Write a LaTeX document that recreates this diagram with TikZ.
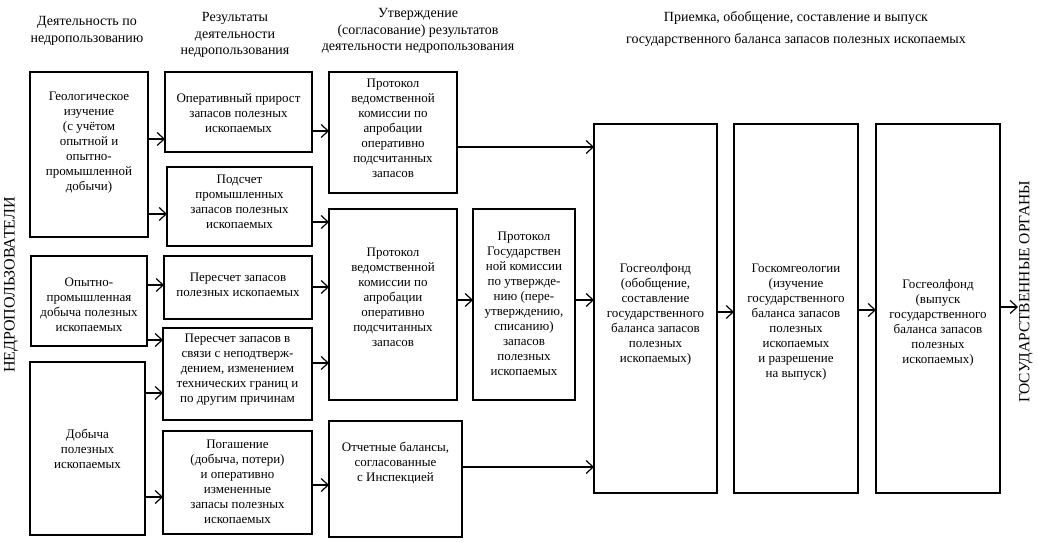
\documentclass[tikz,border=0pt]{standalone}
\usepackage{fontspec}
\setmainfont{Liberation Serif}
\usetikzlibrary{arrows.meta}
\newcommand\mybox[7]{%
  \node[box, minimum width={(#4-#2)*1pt}, minimum height={(#5-#3)*1pt}] (#1) at ({(#2+#4)/2},{(#3+#5)/2}) {};
  \node[txt] (#1t) at ([yshift={-(#6)*1pt}]#1.center) {#7};}
\newcommand\myarr[3]{\draw[arrw] (#1.east |- 0,#3) -- (#2.west |- 0,#3);}
\begin{document}
\begin{tikzpicture}[x=1pt,y=-1pt,
  box/.style={draw, line width=1.2pt, inner sep=0pt, outer sep=0pt},
  txt/.style={align=center, font=\fontsize{13}{15}\selectfont, inner sep=0pt},
  hdr/.style={align=center, font=\fontsize{14}{16.5}\selectfont, inner sep=0pt},
  side/.style={font=\fontsize{16}{18}\selectfont, inner sep=1pt, rotate=90},
  arrw/.style={-{Straight Barb[length=7pt,width=13pt,line width=1.2pt]}, line width=1.2pt}]
\useasboundingbox (0,0) rectangle (1039,543);
% headers
\node[hdr] (h1) at (87,31) {Деятельность по\\недропользованию};
\node[hdr] (h2) at (235,35) {Результаты\\деятельности\\недропользования};
\node[hdr] (h3) at (418,31) {Утверждение\\(согласование) результатов\\деятельности недропользования};
\node[hdr] (h4) at (796,29) {Приемка, обобщение, составление и выпуск\\[6pt]государственного баланса запасов полезных ископаемых};
\node[side] (ned) at (11,285) {НЕДРОПОЛЬЗОВАТЕЛИ};
\node[side, font=\fontsize{15.5}{18}\selectfont] (gos) at (1026,292) {ГОСУДАРСТВЕННЫЕ ОРГАНЫ};
% column 1
\mybox{g1}{30}{72}{148}{237}{-12}{Геологическое\\изучение\\(с учётом\\опытной и\\опытно-\\промышленной\\добычи)}
\mybox{g2}{31}{256}{147}{346}{4}{Опытно-\\промышленная\\добыча полезных\\ископаемых}
\mybox{g3}{30}{362}{145}{535}{0}{Добыча\\полезных\\ископаемых}
% column 2
\mybox{r1}{165}{72}{312}{152}{1}{Оперативный прирост\\запасов полезных\\ископаемых}
\mybox{r2}{167}{167}{312}{246}{-5}{Подсчет\\промышленных\\запасов полезных\\ископаемых}
\mybox{r3}{164}{256}{312}{319}{-3}{Пересчет запасов\\полезных ископаемых}
\mybox{r4}{163}{328}{312}{420}{-4}{Пересчет запасов в\\связи с неподтверж-\\дением, изменением\\технических границ и\\по другим причинам}
\mybox{r5}{163}{431}{312}{534}{-1}{Погашение\\(добыча, потери)\\и оперативно\\измененные\\запасы полезных\\ископаемых}
% column 3
\mybox{p1}{329}{72}{457}{193}{-4}{Протокол\\ведомственной\\комиссии по\\апробации\\оперативно\\подсчитанных\\запасов}
\mybox{p2}{329}{209}{457}{400}{-7}{Протокол\\ведомственной\\комиссии по\\апробации\\оперативно\\подсчитанных\\запасов}
\mybox{p3}{473}{209}{575}{400}{-1}{Протокол\\Государствен\\ной комиссии\\по утвержде-\\нию (пере-\\утверждению,\\списанию)\\запасов\\полезных\\ископаемых}
\mybox{p4}{329}{421}{462}{537}{-16}{Отчетные балансы,\\согласованные\\с Инспекцией}
% column 4
\mybox{f1}{594}{124}{717}{493}{6}{Госгеолфонд\\(обобщение,\\составление\\государственного\\баланса запасов\\полезных\\ископаемых)}
\mybox{f2}{734}{124}{858}{493}{14}{Госкомгеологии\\(изучение\\государственного\\баланса запасов\\полезных\\ископаемых\\и разрешение\\на выпуск)}
\mybox{f3}{876}{124}{1000}{493}{14}{Госгеолфонд\\(выпуск\\государственного\\баланса запасов\\полезных\\ископаемых)}
% arrows
\myarr{g1}{r1}{139}
\myarr{g1}{r2}{214}
\myarr{g2}{r3}{285}
\myarr{g2}{r4}{340}
\myarr{g3}{r4}{393}
\myarr{g3}{r5}{497}
\myarr{r1}{p1}{131}
\myarr{r2}{p2}{222}
\myarr{r3}{p2}{287}
\myarr{r4}{p2}{363}
\myarr{r5}{p4}{485}
\myarr{p1}{f1}{147}
\myarr{p2}{p3}{300}
\myarr{p3}{f1}{300}
\myarr{p4}{f1}{467}
\myarr{f1}{f2}{312}
\myarr{f2}{f3}{310}
\draw[arrw] (f3.east |- 0,307) -- (gos.north |- 0,307);
\end{tikzpicture}
\end{document}
